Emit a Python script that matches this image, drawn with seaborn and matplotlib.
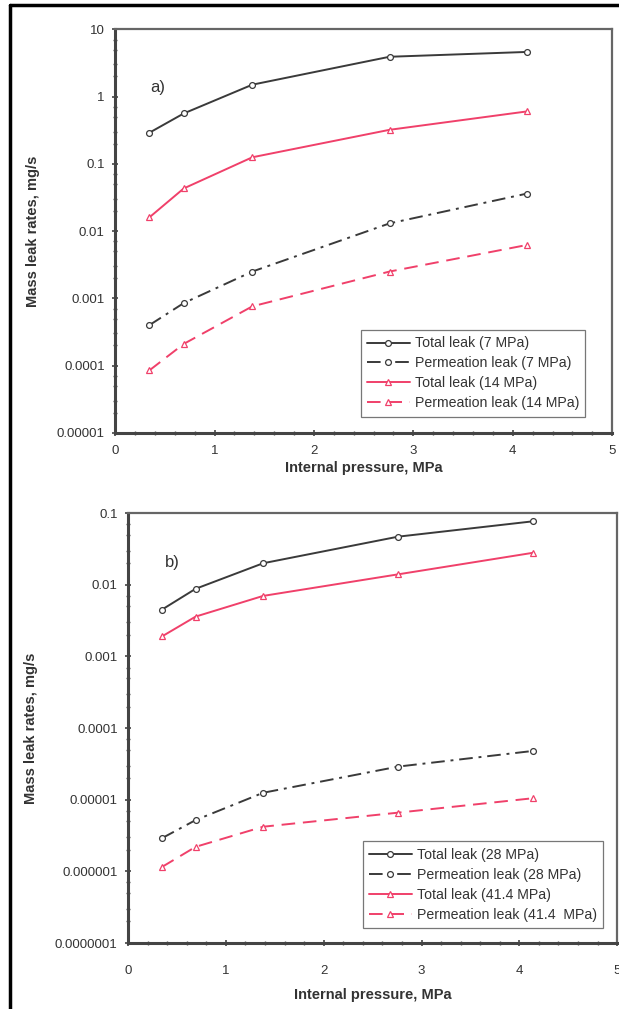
import matplotlib
matplotlib.use('Agg')
import matplotlib.pyplot as plt
import matplotlib.lines as mlines
from matplotlib.ticker import LogLocator
import seaborn as sns
import pandas as pd

sns.set_theme(style='ticks')
plt.rcParams['font.family'] = ['Liberation Sans', 'DejaVu Sans']

# Internal pressure points (MPa)
pressure = [0.345, 0.69, 1.38, 2.76, 4.14]

# Panel a) mass leak rates, mg/s
a_total_7 = [0.29, 0.56, 1.5, 3.9, 4.6]
a_perm_7 = [0.0004, 0.00085, 0.0025, 0.013, 0.036]
a_total_14 = [0.016, 0.043, 0.125, 0.32, 0.6]
a_perm_14 = [0.000085, 0.00021, 0.00076, 0.0025, 0.0062]

# Panel b) mass leak rates, mg/s
b_total_28 = [0.0045, 0.0088, 0.02, 0.047, 0.077]
b_perm_28 = [0.0000029, 0.0000052, 0.0000125, 0.000029, 0.000048]
b_total_41 = [0.0019, 0.0036, 0.007, 0.014, 0.028]
b_perm_41 = [0.00000115, 0.0000022, 0.0000042, 0.0000066, 0.0000105]

a_labels = ['Total leak (7 MPa)', 'Permeation leak (7 MPa)',
            'Total leak (14 MPa)', 'Permeation leak (14 MPa)']
b_labels = ['Total leak (28 MPa)', 'Permeation leak (28 MPa)',
            'Total leak (41.4 MPa)', 'Permeation leak (41.4  MPa)']

a_yticks = [1e-5, 1e-4, 1e-3, 1e-2, 1e-1, 1, 10]
a_yticklabels = ['0.00001', '0.0001', '0.001', '0.01', '0.1', '1', '10']
b_yticks = [1e-7, 1e-6, 1e-5, 1e-4, 1e-3, 1e-2, 1e-1]
b_yticklabels = ['0.0000001', '0.000001', '0.00001', '0.0001', '0.001', '0.01', '0.1']

BLACK = '#3a3a3a'
RED = '#f0406a'
styles = [
    dict(color=BLACK, marker='o', linestyle='-'),
    dict(color=BLACK, marker='o', linestyle=(0, (7, 3, 1.5, 3))),
    dict(color=RED, marker='^', linestyle='-'),
    dict(color=RED, marker='^', linestyle=(0, (7, 4))),
]


def draw_panel(ax, series, labels, yticks, yticklabels, tag, tag_pos,
               leg_anchor, xpad, xlabelpad):
    for vals, lab, st in zip(series, labels, styles):
        df = pd.DataFrame({'p': pressure, 'rate': vals})
        sns.lineplot(data=df, x='p', y='rate', ax=ax, color=st['color'],
                     marker=st['marker'], linestyle=st['linestyle'],
                     linewidth=1.4, markersize=4.2, markerfacecolor='white',
                     markeredgecolor=st['color'], markeredgewidth=0.9,
                     label=lab)
    ax.set_yscale('log')
    ax.set_ylim(yticks[0], yticks[-1])
    ax.set_xlim(0, 5)
    ax.set_yticks(yticks)
    ax.set_yticklabels(yticklabels)
    ax.yaxis.set_minor_locator(LogLocator(base=10, subs=(2, 3, 5, 7)))
    ax.set_xticks([0, 1, 2, 3, 4, 5])
    ax.set_xticks([i * 0.2 for i in range(26)], minor=True)
    ax.tick_params(axis='both', which='major', labelsize=9.5,
                   direction='inout', length=5, width=1.2, pad=5,
                   color='#444444')
    ax.tick_params(axis='both', which='minor', direction='inout', length=3.5,
                   width=1.0, color='#555555')
    ax.tick_params(axis='x', which='major', pad=xpad)
    for lab in ax.get_xticklabels() + ax.get_yticklabels():
        lab.set_color('#333333')
    ax.set_xlabel('Internal pressure, MPa', fontsize=10.5, fontweight='bold',
                  color='#333333', labelpad=xlabelpad)
    ax.set_ylabel('Mass leak rates, mg/s', fontsize=10.5, fontweight='bold',
                  color='#333333', labelpad=12)
    for side in ['left', 'bottom']:
        ax.spines[side].set_linewidth(2.2)
        ax.spines[side].set_color('#444444')
    for side in ['top', 'right']:
        ax.spines[side].set_visible(True)
        ax.spines[side].set_linewidth(1.6)
        ax.spines[side].set_color('#666666')
    ax.text(tag_pos[0], tag_pos[1], tag, transform=ax.transAxes, fontsize=12,
            color='#333333', va='center', ha='left')
    leg = ax.legend(loc='lower right', bbox_to_anchor=leg_anchor, fontsize=10.2,
                    frameon=True, fancybox=False, handlelength=3.0,
                    labelspacing=0.42, borderpad=0.45, handletextpad=0.35,
                    borderaxespad=0)
    leg.get_frame().set_edgecolor('#555555')
    leg.get_frame().set_linewidth(0.9)
    for t in leg.get_texts():
        t.set_color('#333333')


fig = plt.figure(figsize=(6.19, 10.09), dpi=100)
ax_a = fig.add_axes([0.186, 0.571, 0.803, 0.400])
ax_b = fig.add_axes([0.207, 0.0654, 0.790, 0.426])

draw_panel(ax_a, [a_total_7, a_perm_7, a_total_14, a_perm_14], a_labels,
           a_yticks, a_yticklabels, 'a)', (0.07, 0.856), (0.946, 0.04),
           xpad=6, xlabelpad=3)
draw_panel(ax_b, [b_total_28, b_perm_28, b_total_41, b_perm_41], b_labels,
           b_yticks, b_yticklabels, 'b)', (0.075, 0.886), (0.971, 0.035),
           xpad=13, xlabelpad=8)

# outer frame of the original figure
fig.add_artist(mlines.Line2D([10 / 619, 10 / 619], [0, 1 - 5 / 1009],
                             transform=fig.transFigure, color='black', lw=2.5))
fig.add_artist(mlines.Line2D([10 / 619, 1], [1 - 5 / 1009, 1 - 5 / 1009],
                             transform=fig.transFigure, color='black', lw=2.5))

fig.savefig('out.png', dpi=100, facecolor='white')
